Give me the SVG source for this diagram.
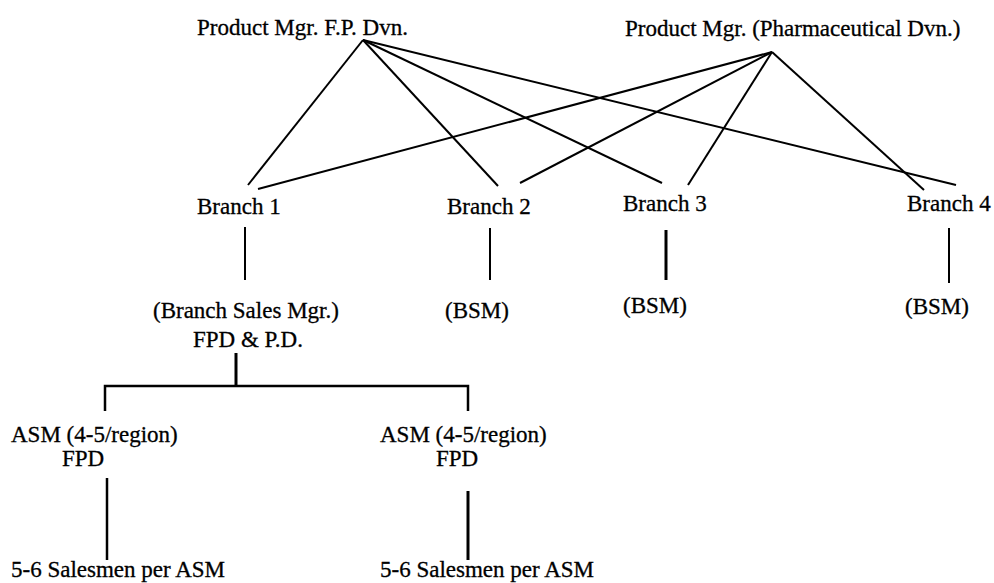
<svg xmlns="http://www.w3.org/2000/svg" width="994" height="583" viewBox="0 0 994 583">
<style>
text{font-family:"Liberation Serif","Times New Roman",serif;font-size:23px;fill:#000;stroke:#000;stroke-width:0.3}
.c line,.c polyline{stroke:#000;stroke-width:2;fill:none;stroke-linecap:butt}
</style>
<rect width="994" height="583" fill="#fff"/>
<g class="c" id="connectors">
<line x1="363" y1="40" x2="248" y2="185"/>
<line x1="363" y1="40" x2="498" y2="186"/>
<line x1="363" y1="40" x2="662" y2="183"/>
<line x1="363" y1="40" x2="956" y2="185"/>
<line x1="772" y1="52" x2="258" y2="189"/>
<line x1="772" y1="52" x2="520" y2="183"/>
<line x1="772" y1="52" x2="688" y2="185"/>
<line x1="772" y1="52" x2="924" y2="190"/>
<line x1="245" y1="227" x2="245" y2="280"/>
<line x1="490" y1="228" x2="490" y2="280"/>
<line x1="666" y1="230" x2="666" y2="280" style="stroke-width:3"/>
<line x1="949" y1="228" x2="949" y2="283"/>
<line x1="236" y1="353" x2="236" y2="385" style="stroke-width:3"/>
<polyline points="105,411 105,386 468,386 468,411" style="stroke-width:2.5"/>
<line x1="107" y1="478" x2="107" y2="560" style="stroke-width:2.5"/>
<line x1="468" y1="491" x2="468" y2="560" style="stroke-width:3"/>
</g>
<g id="pm-fp"><text x="197" y="35">Product Mgr. F.P. Dvn.</text></g>
<g id="pm-pharma"><text x="625" y="36">Product Mgr. (Pharmaceutical Dvn.)</text></g>
<g id="branch1"><text x="197" y="214">Branch 1</text></g>
<g id="branch2"><text x="447" y="214">Branch 2</text></g>
<g id="branch3"><text x="623" y="211">Branch 3</text></g>
<g id="branch4"><text x="907" y="211">Branch 4</text></g>
<g id="bsm1"><text x="153" y="318">(Branch Sales Mgr.)</text><text x="193" y="347">FPD &amp; P.D.</text></g>
<g id="bsm2"><text x="445" y="318">(BSM)</text></g>
<g id="bsm3"><text x="623" y="313">(BSM)</text></g>
<g id="bsm4"><text x="905" y="314">(BSM)</text></g>
<g id="asm1"><text x="11" y="442">ASM (4-5/region)</text><text x="62" y="466">FPD</text></g>
<g id="asm2"><text x="380" y="442">ASM (4-5/region)</text><text x="436" y="466">FPD</text></g>
<g id="sales1"><text x="11" y="577">5-6 Salesmen per ASM</text></g>
<g id="sales2"><text x="380" y="577">5-6 Salesmen per ASM</text></g>
</svg>
